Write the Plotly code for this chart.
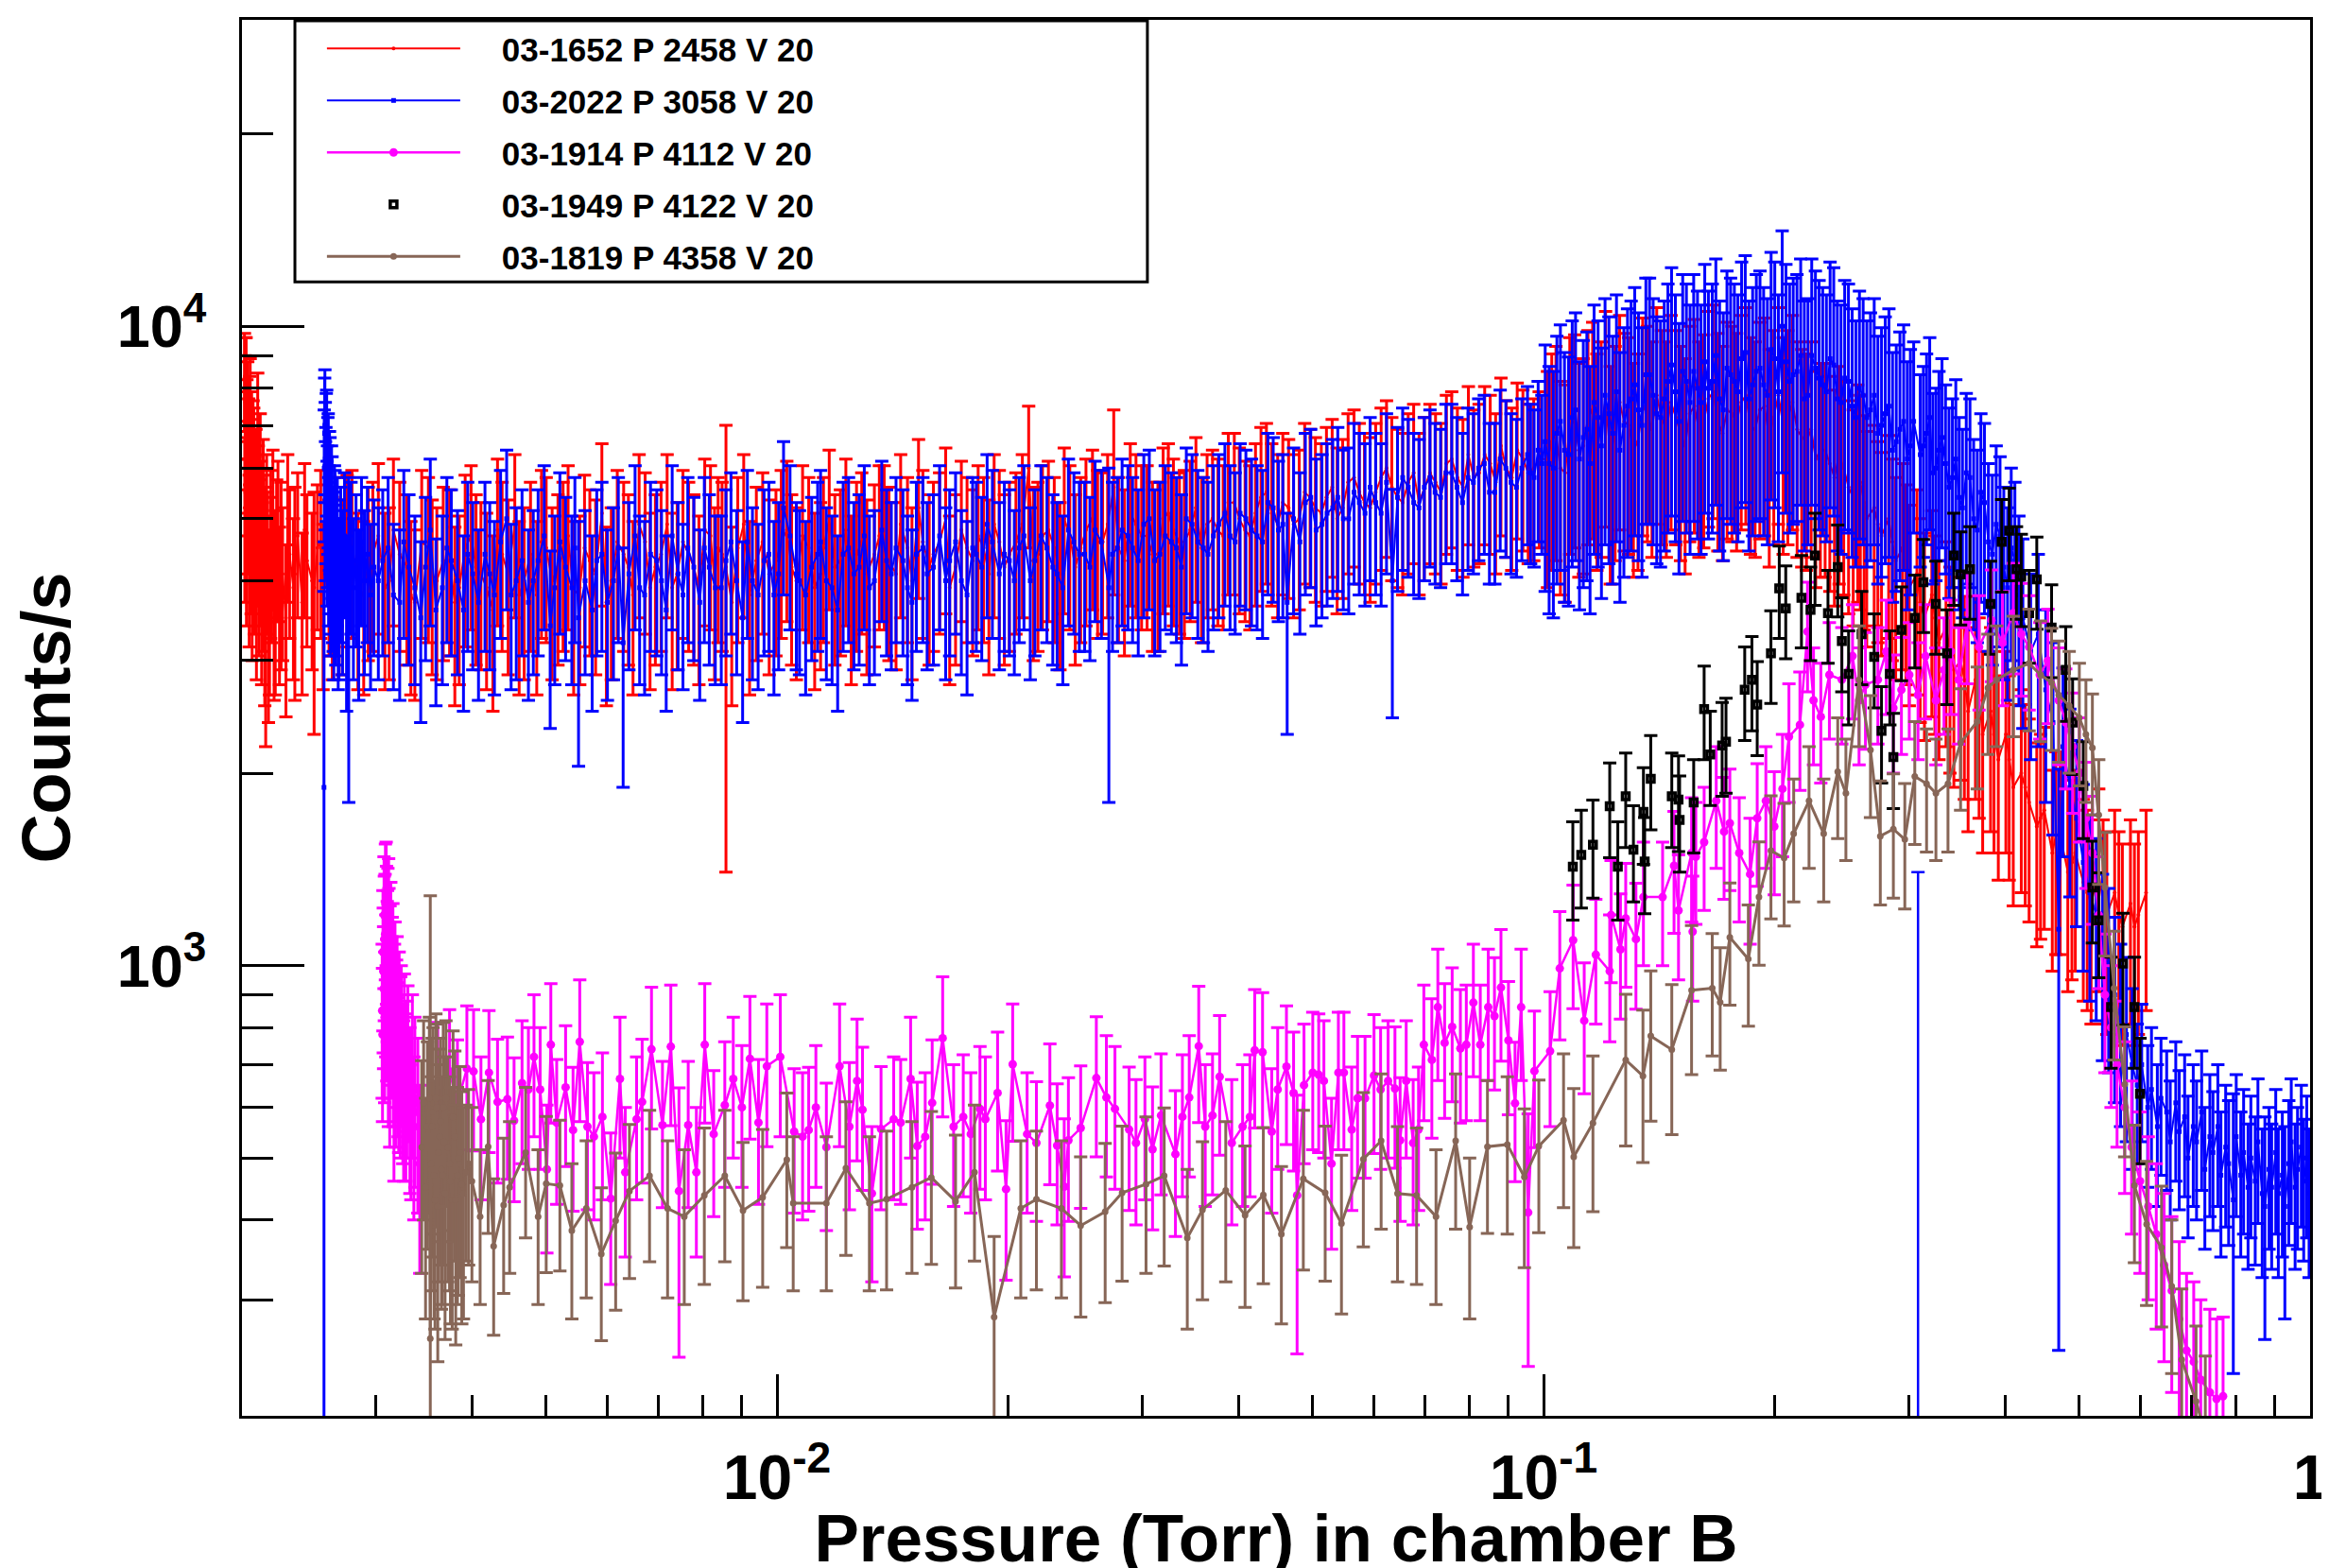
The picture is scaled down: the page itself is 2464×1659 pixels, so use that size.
import plotly.graph_objects as go

# ---------------- data ----------------
# 03-1652 P 2458 V 20  (red) -- first pass of readings
red_x = [
    0.002020, 0.002025, 0.002030, 0.002035, 0.002040, 0.002046, 0.002052, 0.002058, 0.002064, 0.002070,
    0.002077, 0.002084, 0.002091, 0.002098, 0.002106, 0.002114, 0.002123, 0.002132, 0.002142, 0.002153,
    0.002165, 0.002178, 0.002192, 0.002208, 0.002225, 0.002244, 0.002265, 0.002288, 0.002313, 0.002340,
    0.002370, 0.002402, 0.002437, 0.002475, 0.002515, 0.002558, 0.002604, 0.002652,
    0.00271, 0.00279, 0.00289, 0.00297, 0.00308, 0.00316, 0.00329, 0.00337, 0.00351, 0.00360,
    0.00374, 0.00385, 0.00399, 0.00411, 0.00426, 0.00438, 0.00455, 0.00468, 0.00486, 0.00500,
    0.00518, 0.00534, 0.00553, 0.00570, 0.00591, 0.00608, 0.00631, 0.00649, 0.00673, 0.00694,
    0.00719, 0.00741, 0.00767, 0.00791, 0.00819, 0.00838, 0.00858, 0.00889, 0.00921, 0.00958,
    0.00997, 0.0103, 0.0106, 0.0110, 0.0114, 0.0117, 0.0121, 0.0125, 0.0129, 0.0134,
    0.0138, 0.0143, 0.0148, 0.0153, 0.0158, 0.0163, 0.0168, 0.0174, 0.0180, 0.0186,
    0.0192, 0.0198, 0.0205, 0.0213, 0.0219, 0.0226, 0.0234, 0.0241, 0.0249, 0.0258,
    0.0266, 0.0275, 0.0284, 0.0294, 0.0304, 0.0314, 0.0324, 0.0335, 0.0346, 0.0358,
    0.0370, 0.0382, 0.0395, 0.0408, 0.0421, 0.0435, 0.0450, 0.0465, 0.0480, 0.0496,
    0.0513, 0.0530, 0.0547, 0.0566, 0.0584, 0.0604, 0.0624, 0.0645, 0.0666, 0.0688,
    0.0711, 0.0735, 0.0759, 0.0785, 0.0811, 0.0838, 0.0866, 0.0894, 0.0924, 0.0955, 0.0987,
    0.1012, 0.1038, 0.1067, 0.1098, 0.1127, 0.1159, 0.1189, 0.1222, 0.1257, 0.1291,
    0.1328, 0.1366, 0.1405, 0.1446, 0.1488, 0.1530, 0.1573, 0.1618, 0.1664, 0.1712,
    0.1761, 0.1811, 0.1862, 0.1915, 0.1970, 0.2025, 0.2083, 0.2142, 0.2203, 0.2265,
    0.2330, 0.2396, 0.2464, 0.2535, 0.2590, 0.2640,
    0.270, 0.276, 0.282, 0.288, 0.294, 0.300, 0.307, 0.314, 0.321, 0.328,
    0.335, 0.343, 0.350, 0.358, 0.366, 0.374, 0.383, 0.392, 0.401, 0.410,
    0.420, 0.430, 0.440, 0.450, 0.461, 0.472, 0.483, 0.494, 0.506, 0.518,
    0.530, 0.543, 0.556, 0.569, 0.583, 0.597, 0.611,
]
red_y = [
    8300, 7600, 8100, 6900, 7400, 6400, 7000, 5900, 6600, 5500,
    6200, 5100, 5700, 4800, 5300, 4500, 5000, 4200, 4700, 3900,
    4400, 3700, 4300, 3600, 4600, 3800, 4100, 3500, 4400, 3900,
    4700, 3700, 4300, 4000, 4500, 3800, 4200, 4600,
    4100, 4600, 3800, 4400, 3900, 4800, 4200, 3700, 4500, 4000,
    4300, 3900, 4700, 4100, 3600, 4400, 4900, 4000, 3800, 4500,
    4200, 4700, 3900, 4300, 5100, 4000, 4400, 3800, 4600, 4200,
    4900, 4100, 4400, 3900, 4700, 4500, 4200, 4500, 3800, 4600,
    4300, 4800, 4000, 4500, 4100, 5000, 4300, 3900, 4600, 4400,
    4700, 4100, 4500, 5200, 4200, 4600, 3900, 4800, 4300, 4500,
    4900, 4200, 4600, 6000, 4400, 4800, 4100, 4700, 4500, 5000,
    4600, 5600, 4300, 4900, 4700, 4400, 5100, 4600, 4800, 4500,
    5000, 4700, 5300, 4800, 5100, 5500, 4900, 5200, 5000, 5400,
    5100, 5600, 5200, 5800, 5300, 5500, 6000, 5400, 5700, 5300,
    5900, 5500, 6200, 5600, 5800, 6300, 5700, 6000, 6400, 5900, 6200,
    6200, 6800, 5900, 7100, 6500, 7400, 6900, 6300, 7600, 7000,
    6600, 7300, 7800, 6900, 7200, 6500, 7500, 7100, 7900, 6800,
    7300, 7600, 7000, 7400, 6700, 7800, 7200, 6900, 6600, 6200,
    6400, 5800, 6000, 5400, 5700, 5000,
    5200, 4700, 5000, 4300, 4500, 3900, 4100, 3500, 3800, 3200,
    3400, 2900, 3000, 2500, 2800, 2300, 2500, 2100, 2300, 1900,
    2000, 1800, 1650, 1750, 1500, 1600, 1400, 1500, 1350, 1250,
    1400, 1200, 1300, 1150, 1250, 1200, 1300,
]
red_err = [
    1450, 1400, 1500, 1350, 1400, 1300, 1350, 1250, 1300, 1200,
    1250, 1150, 1200, 1150, 1200, 1100, 1150, 1100, 1150, 1700,
    1100, 1050, 1100, 1000, 1150, 1050, 1100, 1050, 1150, 1100,
    1200, 1050, 1150, 1100, 1150, 1100, 1150, 1200,
    1250, 1350, 1150, 1300, 1200, 1400, 1250, 1100, 1300, 1200,
    1250, 1150, 1350, 1200, 1100, 1300, 1400, 1200, 1150, 1300,
    1250, 1350, 1150, 1250, 1450, 1200, 1300, 1150, 1300, 1250,
    1400, 1200, 1300, 1150, 1350, 1300, 2800, 1300, 1150, 1300,
    1250, 1350, 1200, 1300, 1200, 1400, 1250, 1150, 1300, 1250,
    1350, 1200, 1300, 1450, 1250, 1300, 1150, 1350, 1250, 1300,
    1400, 1250, 1300, 1500, 1300, 1350, 1200, 1350, 1300, 1400,
    1300, 1800, 1250, 1400, 1350, 1300, 1450, 1300, 1350, 1300,
    1400, 1350, 1500, 1350, 1450, 1550, 1400, 1450, 1400, 1500,
    1450, 1550, 1450, 1600, 1500, 1550, 1650, 1500, 1600, 1500,
    1650, 1550, 1700, 1550, 1600, 1750, 1600, 1650, 1750, 1650, 1700,
    2300, 2500, 2200, 2600, 2400, 2750, 2550, 2350, 2800, 2600,
    2450, 2700, 2900, 2550, 2650, 2400, 2750, 2600, 2900, 2500,
    2700, 2800, 2600, 2750, 2500, 2900, 2650, 2550, 2450, 2300,
    2350, 2150, 2200, 2000, 2100, 1850,
    1800, 1650, 1750, 1500, 1600, 1350, 1450, 1250, 1350, 1100,
    1200, 1000, 1050, 880, 980, 800, 880, 740, 800, 660,
    700, 630, 580, 610, 520, 560, 490, 520, 470, 440,
    490, 420, 450, 400, 440, 420, 450,
]
# red -- second pass (readings in between the first pass)
red_x2 = [
    0.002022, 0.002027, 0.002032, 0.002037, 0.002043, 0.002049, 0.002055, 0.002061, 0.002067, 0.002073,
    0.002080, 0.002087, 0.002094, 0.002102, 0.002110, 0.002118, 0.002127, 0.002137, 0.002147, 0.002159,
    0.002171, 0.002185, 0.002200, 0.002216, 0.002234, 0.002255, 0.002300, 0.002350, 0.002420, 0.002490,
    0.002540, 0.002630,
    0.00275, 0.00284, 0.00293, 0.00302, 0.00312, 0.00322, 0.00333, 0.00344, 0.00355, 0.00367,
    0.00380, 0.00392, 0.00405, 0.00418, 0.00432, 0.00446, 0.00461, 0.00477, 0.00493, 0.00509,
    0.00526, 0.00543, 0.00561, 0.00580, 0.00599, 0.00619, 0.00640, 0.00661, 0.00683, 0.00706,
    0.00730, 0.00754, 0.00779, 0.00805, 0.00829, 0.00848, 0.00873, 0.00905, 0.00940, 0.00977,
    0.01013, 0.01045, 0.0108, 0.0112, 0.0115, 0.0119, 0.0123, 0.0127, 0.0131, 0.0136,
    0.0140, 0.0145, 0.0150, 0.0155, 0.0160, 0.0166, 0.0171, 0.0177, 0.0183, 0.0189,
    0.0195, 0.0201, 0.0209, 0.0216, 0.0222, 0.0230, 0.0237, 0.0245, 0.0253, 0.0262,
    0.0270, 0.0279, 0.0289, 0.0299, 0.0309, 0.0319, 0.0329, 0.0340, 0.0352, 0.0364,
    0.0376, 0.0388, 0.0401, 0.0414, 0.0428, 0.0442, 0.0457, 0.0472, 0.0488, 0.0504,
    0.0521, 0.0538, 0.0556, 0.0575, 0.0594, 0.0614, 0.0634, 0.0655, 0.0677, 0.0699,
    0.0723, 0.0747, 0.0772, 0.0798, 0.0824, 0.0852, 0.0880, 0.0909, 0.0940, 0.0971,
    0.1025, 0.1052, 0.1082, 0.1112, 0.1143, 0.1174, 0.1205, 0.1240, 0.1274, 0.1310,
    0.1347, 0.1385, 0.1425, 0.1467, 0.1509, 0.1551, 0.1595, 0.1641, 0.1688, 0.1736,
    0.1786, 0.1836, 0.1888, 0.1942, 0.1997, 0.2054, 0.2112, 0.2172, 0.2234, 0.2297,
    0.2363, 0.2430, 0.2500, 0.2570, 0.2620,
    0.273, 0.285, 0.297, 0.310, 0.324, 0.339, 0.354, 0.370, 0.387, 0.405,
    0.425, 0.445, 0.466, 0.489, 0.512, 0.537, 0.563, 0.590,
]
red_y2 = [
    5200, 7900, 4800, 6300, 5600, 4500, 7200, 5000, 4300, 6100,
    4700, 5400, 4100, 6800, 4400, 5800, 4000, 5200, 3800, 4900,
    3600, 4600, 5000, 3900, 4800, 4300, 5000, 4100, 4800, 3900,
    4600, 4100,
    4500, 3900, 4300, 4700, 4000, 4400, 3800, 4600, 4100, 4300,
    3700, 4500, 4200, 3900, 4800, 4100, 3800, 4400, 4600, 4000,
    4400, 3800, 4500, 4100, 3700, 4600, 4200, 4900, 3900, 4400,
    3900, 4600, 4200, 4800, 4000, 4400, 3700, 4900, 4300, 4100,
    4600, 4200, 4700, 3900, 4500, 4200, 4800, 4400, 4100, 4700,
    4300, 4900, 4000, 4600, 4400, 5000, 4200, 4500, 4700, 4100,
    4600, 4400, 4900, 4300, 4700, 4500, 5000, 4200, 4800, 4600,
    4900, 4500, 5100, 4700, 4400, 5000, 4800, 4600, 5200, 4900,
    4800, 5300, 5000, 4700, 5400, 5100, 5300, 4900, 5500, 5200,
    5400, 5000, 5700, 5500, 5200, 5800, 5600, 5300, 5900, 5600,
    5700, 6100, 5800, 6300, 5900, 6100, 6500, 5800, 6200, 6000,
    6600, 6000, 7000, 6400, 7200, 6600, 7700, 6800, 7100, 6400,
    7500, 6900, 7200, 7600, 6800, 7300, 6900, 7700, 7100, 7400,
    7100, 7800, 6900, 7500, 7200, 7000, 7600, 6700, 6900, 6400,
    6100, 6300, 5600, 5900, 5300,
    4900, 4600, 4200, 3700, 3500, 3100, 2800, 2600, 2300, 2100,
    1900, 1700, 1600, 1450, 1300, 1250, 1200, 1150,
]
red_err2 = [
    1500, 1700, 1400, 1600, 1500, 1350, 1700, 1450, 1300, 1550,
    1400, 1500, 1300, 1650, 1350, 1500, 1250, 1450, 1250, 1400,
    1200, 1350, 1400, 1250, 1350, 1400, 1300, 1500, 1300, 1600,
    1350, 1300,
    1350, 1200, 1300, 1400, 1200, 1300, 1150, 1350, 1250, 1300,
    1150, 1350, 1250, 1200, 1400, 1250, 1150, 1300, 1350, 1200,
    1300, 1150, 1350, 1250, 1150, 1350, 1250, 1400, 1200, 1300,
    1200, 1350, 1250, 1400, 1200, 1300, 1150, 1400, 1300, 1250,
    1350, 1250, 1350, 1200, 1300, 1250, 1400, 1300, 1250, 1350,
    1300, 1400, 1200, 1350, 1300, 1450, 1250, 1300, 1350, 1250,
    1350, 1300, 1400, 1300, 1350, 1300, 1450, 1250, 1400, 1350,
    1400, 1300, 1450, 1350, 1300, 1450, 1400, 1350, 1500, 1400,
    1400, 1500, 1450, 1350, 1550, 1450, 1500, 1400, 1550, 1500,
    1550, 1450, 1600, 1550, 1500, 1650, 1600, 1500, 1650, 1600,
    1600, 1700, 1650, 1750, 1650, 1700, 1800, 1650, 1750, 1700,
    2450, 2200, 2600, 2350, 2650, 2450, 2850, 2500, 2650, 2350,
    2800, 2550, 2650, 2800, 2500, 2700, 2550, 2850, 2650, 2750,
    2650, 2900, 2550, 2800, 2650, 2600, 2800, 2500, 2550, 2350,
    2250, 2350, 2050, 2200, 1950,
    1700, 1600, 1450, 1300, 1200, 1100, 980, 900, 800, 740,
    660, 600, 560, 500, 450, 440, 420, 400,
]

# 03-2022 P 3058 V 20  (blue) -- first pass
blue_x = [
    0.002565, 0.002570, 0.002575, 0.002580, 0.002586, 0.002592, 0.002598, 0.002605, 0.002612, 0.002620,
    0.002628, 0.002637, 0.002647, 0.002658, 0.002670, 0.002683, 0.002697, 0.002712, 0.002728, 0.002745,
    0.002763, 0.002782, 0.002802, 0.002824, 0.002847, 0.002871, 0.002896, 0.002922, 0.002950, 0.002980,
    0.00302, 0.00311, 0.00322, 0.00331, 0.00343, 0.00353, 0.00366, 0.00376, 0.00390, 0.00401,
    0.00416, 0.00428, 0.00444, 0.00457, 0.00474, 0.00488, 0.00506, 0.00521, 0.00540, 0.00551,
    0.00574, 0.00591, 0.00612, 0.00630, 0.00653, 0.00672, 0.00697, 0.00717, 0.00743, 0.00765,
    0.00793, 0.00816, 0.00846, 0.00871, 0.00902, 0.00929, 0.00962, 0.00991, 0.0102, 0.0106,
    0.0109, 0.0113, 0.0116, 0.0120, 0.0124, 0.0128, 0.0132, 0.0137, 0.0141, 0.0146,
    0.0150, 0.0155, 0.0160, 0.0166, 0.0171, 0.0177, 0.0182, 0.0188, 0.0195, 0.0201,
    0.0207, 0.0214, 0.0221, 0.0229, 0.0236, 0.0244, 0.0252, 0.0260, 0.0271, 0.0278,
    0.0287, 0.0296, 0.0306, 0.0316, 0.0327, 0.0337, 0.0348, 0.0360, 0.0371, 0.0384,
    0.0396, 0.0409, 0.0423, 0.0437, 0.0451, 0.0463, 0.0481, 0.0497, 0.0514, 0.0531,
    0.0548, 0.0566, 0.0585, 0.0604, 0.0624, 0.0635, 0.0666, 0.0688, 0.0711, 0.0734,
    0.0759, 0.0784, 0.0810, 0.0837, 0.0864, 0.0893, 0.0922, 0.0953, 0.0972, 0.0995,
    0.1005, 0.1030, 0.1052, 0.1078, 0.1101, 0.1127, 0.1150, 0.1178, 0.1203, 0.1231,
    0.1258, 0.1287, 0.1315, 0.1344, 0.1375, 0.1405, 0.1437, 0.1469, 0.1502, 0.1536,
    0.1570, 0.1605, 0.1641, 0.1678, 0.1716, 0.1754, 0.1793, 0.1833, 0.1874, 0.1916,
    0.1959, 0.2003, 0.2048, 0.2094, 0.2141, 0.2189, 0.2238, 0.2288, 0.2339, 0.2391,
    0.2444, 0.2499, 0.2555, 0.2612, 0.2670, 0.2730, 0.2791, 0.2853, 0.2917, 0.2982,
    0.3040, 0.3130, 0.3190, 0.3250, 0.3310, 0.3380, 0.3450, 0.3520, 0.3600, 0.3680,
    0.3760, 0.3850, 0.3940, 0.4030, 0.4120, 0.4220, 0.4320, 0.4420, 0.4520, 0.4620,
    0.4700, 0.4760, 0.4860, 0.4960, 0.5060, 0.5160, 0.5260, 0.5360, 0.5460, 0.5560,
    0.5660, 0.5760, 0.5860,
    0.595, 0.603, 0.614, 0.621, 0.632, 0.639, 0.650, 0.657, 0.668, 0.675,
    0.686, 0.693, 0.704, 0.711, 0.722, 0.729, 0.740, 0.747, 0.758, 0.765,
    0.776, 0.783, 0.794, 0.801, 0.812, 0.819, 0.830, 0.837, 0.848, 0.855,
    0.866, 0.873, 0.884, 0.891, 0.902, 0.909, 0.920, 0.927, 0.938, 0.945,
    0.956, 0.963, 0.974, 0.981, 0.990, 0.997,
]
blue_y = [
    1900, 6800, 6200, 5600, 6500, 5200, 5900, 4800, 5400, 4500,
    5000, 4300, 4800, 4100, 4600, 3900, 4400, 4000, 4700, 3600,
    3800, 4500, 3900, 4300, 3700, 4600, 4000, 4400, 3800, 4200,
    4000, 4500, 3700, 4200, 3500, 4800, 3900, 4300, 3600, 4100,
    4400, 3800, 5000, 4000, 3700, 4300, 3400, 4600, 3900, 3500,
    3600, 4400, 4000, 3200, 4700, 3800, 4300, 3600, 4100, 4500,
    3700, 4200, 3900, 4600, 3500, 4000, 4300, 3800, 5200, 4100,
    3800, 4400, 4000, 3600, 4500, 4200, 3900, 4800, 4100, 4300,
    3700, 4500, 4200, 4000, 4600, 3800, 4400, 4900, 4100, 4300,
    4500, 4000, 4700, 4200, 3900, 4600, 4400, 4800, 3900, 4500,
    4700, 4300, 5000, 4400, 4600, 4200, 4900, 4500, 4700, 5100,
    4600, 5000, 4700, 5300, 4800, 3700, 4600, 5400, 4900, 5200,
    5000, 5500, 5100, 5300, 5700, 4000, 5600, 5200, 5800, 5400,
    5900, 5300, 5700, 6100, 5500, 6000, 5600, 6300, 5800, 6100,
    6600, 6000, 7100, 6300, 7400, 6700, 6100, 7200, 7800, 6800,
    6400, 7500, 8100, 7000, 8400, 7300, 7700, 8700, 7100, 8200,
    8500, 7600, 8000, 9000, 7400, 8400, 7900, 9100, 8100, 8600,
    7800, 8900, 10000, 8200, 8500, 7700, 9000, 8300, 7900, 8700,
    7600, 8200, 7200, 7800, 7400, 6800, 7300, 6400, 6900, 6200,
    7100, 6500, 7200, 6000, 6700, 5600, 6200, 5200, 5800, 4800,
    5300, 4400, 4700, 3900, 4300, 3500, 3100, 3300, 2700, 2400,
    1140, 2200, 1900, 1700, 1450, 1300, 1200, 1050, 1000, 900,
    820, 780, 700,
    650, 700, 600, 640, 560, 620, 590, 530, 610, 550,
    580, 500, 560, 530, 590, 480, 540, 510, 560, 470,
    520, 490, 430, 540, 470, 510, 450, 500, 460, 530,
    440, 420, 480, 450, 510, 440, 470, 420, 490, 530,
    450, 480, 520, 460, 500, 440,
]
blue_err = [
    1950, 1500, 1400, 1350, 1450, 1300, 1400, 1250, 1300, 1200,
    1250, 1200, 1250, 1150, 1200, 1100, 1200, 1150, 1200, 1100,
    2000, 1200, 1100, 1150, 1100, 1200, 1150, 1200, 1100, 1150,
    1200, 1300, 1100, 1250, 1100, 1400, 1150, 1250, 1100, 1200,
    1300, 1150, 1400, 1200, 1100, 1250, 1050, 1300, 1150, 1450,
    1100, 1300, 1200, 1300, 1350, 1150, 1250, 1100, 1200, 1300,
    1100, 1250, 1150, 1300, 1100, 1200, 1250, 1150, 1400, 1200,
    1150, 1300, 1200, 1100, 1300, 1250, 1150, 1350, 1200, 1250,
    1100, 1300, 1250, 1200, 1300, 1150, 1300, 1400, 1200, 1250,
    1300, 1200, 1350, 1250, 1150, 1300, 1300, 1350, 2100, 1300,
    1350, 1250, 1400, 1300, 1300, 1250, 1400, 1300, 1350, 1450,
    1300, 1400, 1350, 1500, 1350, 1400, 1300, 1500, 1400, 1450,
    1400, 1550, 1450, 1500, 1600, 1560, 1550, 1450, 1600, 1500,
    1650, 1500, 1600, 1700, 1550, 1650, 1550, 1750, 1600, 1700,
    2750, 2500, 2950, 2650, 3100, 2800, 2550, 3000, 3250, 2850,
    2700, 3150, 3400, 2950, 3500, 3050, 3250, 3650, 3000, 3450,
    3550, 3200, 3350, 3750, 3100, 3500, 3300, 3800, 3400, 3600,
    3250, 3700, 4100, 3450, 3550, 3250, 3750, 3500, 3300, 3650,
    3200, 3450, 3000, 3250, 3100, 2850, 3050, 2700, 2900, 2600,
    2350, 2150, 2400, 2000, 2200, 1850, 2050, 1700, 1900, 1600,
    1750, 1450, 1550, 1300, 1400, 1150, 1000, 1100, 900, 800,
    890, 720, 620, 550, 470, 420, 380, 340, 320, 290,
    260, 250, 220,
    160, 170, 150, 160, 140, 150, 145, 130, 150, 135,
    145, 125, 140, 130, 145, 120, 135, 125, 140, 120,
    130, 125, 200, 135, 120, 130, 115, 125, 120, 135,
    115, 160, 120, 115, 130, 115, 120, 140, 125, 135,
    115, 120, 130, 115, 125, 115,
]
# blue -- second pass
blue_x2 = [
    0.002567, 0.002572, 0.002577, 0.002583, 0.002589, 0.002595, 0.002601, 0.002608, 0.002616, 0.002624,
    0.002632, 0.002642, 0.002652, 0.002664, 0.002677,
    0.00306, 0.00316, 0.00326, 0.00337, 0.00348, 0.00359, 0.00371, 0.00383, 0.00395, 0.00408,
    0.00422, 0.00436, 0.00450, 0.00465, 0.00481, 0.00497, 0.00513, 0.00530, 0.00545, 0.00562,
    0.00582, 0.00601, 0.00621, 0.00641, 0.00662, 0.00684, 0.00707, 0.00730, 0.00754, 0.00779,
    0.00804, 0.00831, 0.00858, 0.00886, 0.00915, 0.00945, 0.00976, 0.01005, 0.0104, 0.0107,
    0.0111, 0.0114, 0.0118, 0.0122, 0.0126, 0.0130, 0.0134, 0.0139, 0.0143, 0.0148,
    0.0152, 0.0157, 0.0163, 0.0168, 0.0174, 0.0180, 0.0185, 0.0191, 0.0198, 0.0204,
    0.0210, 0.0217, 0.0225, 0.0232, 0.0240, 0.0248, 0.0256, 0.0265, 0.0274, 0.0282,
    0.0291, 0.0301, 0.0311, 0.0321, 0.0332, 0.0342, 0.0354, 0.0365, 0.0377, 0.0390,
    0.0402, 0.0416, 0.0430, 0.0444, 0.0457, 0.0472, 0.0489, 0.0505, 0.0522, 0.0539,
    0.0557, 0.0575, 0.0594, 0.0614, 0.0645, 0.0655, 0.0677, 0.0699, 0.0722, 0.0746,
    0.0771, 0.0797, 0.0823, 0.0850, 0.0878, 0.0907, 0.0937, 0.0962, 0.0984,
    0.1017, 0.1041, 0.1065, 0.1090, 0.1114, 0.1139, 0.1164, 0.1190, 0.1217, 0.1245,
    0.1273, 0.1301, 0.1330, 0.1360, 0.1390, 0.1421, 0.1453, 0.1486, 0.1519, 0.1553,
    0.1588, 0.1623, 0.1660, 0.1697, 0.1735,
    0.1774, 0.1813, 0.1853, 0.1895, 0.1937, 0.1981, 0.2025, 0.2071, 0.2117, 0.2165,
    0.2213, 0.2263, 0.2313, 0.2365, 0.2417, 0.2471, 0.2527, 0.2583, 0.2641, 0.2700,
    0.2760, 0.2822, 0.2885, 0.2950, 0.3010,
    0.3100, 0.3160, 0.3220, 0.3280, 0.3345, 0.3415, 0.3485, 0.3560, 0.3640, 0.3720,
    0.3805, 0.3895, 0.3985, 0.4075, 0.4170,
]
blue_y2 = [
    6000, 7000, 5300, 6400, 4900, 5800, 4600, 5500, 4200, 5200,
    4400, 3900, 4700, 4200, 3800,
    4300, 3800, 4600, 3900, 4200, 3600, 4500, 4000, 4400, 3700,
    4100, 4600, 3800, 4300, 4000, 4700, 3900, 4200, 4500, 4000,
    4300, 3700, 4500, 4100, 3900, 4400, 4000, 4700, 3800, 4200,
    4500, 3900, 4300, 4000, 4600, 3800, 4400, 4100, 4700, 4000,
    4200, 4600, 3900, 4400, 4100, 4700, 4000, 4300, 4500, 3900,
    4400, 4100, 4700, 4300, 4000, 4500, 4200, 4600, 4400, 4000,
    4700, 4300, 4500, 4100, 4800, 4400, 4200, 4600, 4400, 4800,
    4500, 4900, 4300, 4700, 4500, 5000, 4600, 4400, 4900, 4700,
    5100, 4800, 4600, 5200, 4900, 5000, 5300, 4800, 5100, 5400,
    5000, 5300, 5600, 5100, 5400, 5800, 5300, 5600, 5500, 5900,
    5600, 5800, 6000, 5500, 6200, 5700, 6000, 5900, 6400,
    6100, 6800, 6400, 7200, 6200, 6900, 7600, 6500, 7300, 7900,
    7000, 7700, 7400, 8400, 7800, 7200, 8200, 7900, 8500, 7600,
    8000, 8800, 8200, 7700, 8600,
    8200, 8900, 7700, 8500, 8100, 9200, 7900, 8800, 8400, 9000,
    7800, 8600, 8100, 8900, 7700, 8300, 7500, 8000, 7200, 7800,
    7000, 7500, 6600, 7100, 6500,
    6300, 6800, 5900, 6400, 6100, 5800, 5400, 5900, 5000, 5500,
    4600, 4900, 4200, 4500, 3800,
]
blue_err2 = [
    1400, 1550, 1300, 1450, 1250, 1400, 1200, 1350, 1150, 1300,
    1200, 1100, 1250, 1150, 1100,
    1250, 1100, 1350, 1150, 1200, 1050, 1300, 1150, 1300, 1100,
    1200, 1350, 1100, 1250, 1150, 1350, 1150, 1200, 1300, 1150,
    1250, 1100, 1300, 1200, 1150, 1300, 1150, 1350, 1100, 1200,
    1300, 1150, 1250, 1150, 1350, 1100, 1300, 1200, 1350, 1150,
    1200, 1350, 1150, 1300, 1200, 1350, 1150, 1250, 1300, 1150,
    1300, 1200, 1350, 1250, 1150, 1300, 1200, 1350, 1300, 1150,
    1350, 1250, 1300, 1200, 1400, 1300, 1200, 1350, 1300, 1400,
    1300, 1400, 1250, 1350, 1300, 1450, 1350, 1300, 1400, 1350,
    1450, 1400, 1350, 1500, 1400, 1450, 1500, 1400, 1450, 1550,
    1450, 1500, 1600, 1450, 1550, 1650, 1500, 1600, 1550, 1650,
    1600, 1650, 1700, 1550, 1750, 1600, 1700, 1650, 1800,
    2550, 2850, 2700, 3000, 2600, 2900, 3200, 2750, 3050, 3300,
    2950, 3250, 3100, 3500, 3250, 3000, 3450, 3300, 3550, 3200,
    3350, 3700, 3450, 3250, 3600,
    3450, 3700, 3250, 3550, 3400, 3850, 3300, 3700, 3500, 3750,
    3250, 3600, 3400, 3700, 3250, 3500, 3150, 3350, 3000, 3250,
    2950, 3150, 2750, 2950, 2700,
    2100, 2250, 1950, 2100, 2000, 1900, 1800, 1950, 1650, 1800,
    1500, 1600, 1400, 1500, 1250,
]
# blue readings with a zero rate (bar drawn from 0 up to the error)
blue_zero_x = [0.3080]
blue_zero_y = [0]
blue_zero_err = [1400]

# 03-1914 P 4112 V 20  (magenta) -- first pass
mag_x = [
    0.003055, 0.003065, 0.003075, 0.003085, 0.003095, 0.003105, 0.003115, 0.003125, 0.003135, 0.003145,
    0.003155, 0.003165, 0.003175, 0.003185, 0.003195, 0.003205, 0.003215, 0.003225, 0.003235, 0.003250,
    0.003265, 0.003280, 0.003300, 0.003320, 0.003345, 0.003370, 0.003400, 0.003420,
    0.00361, 0.00374, 0.00383, 0.00394, 0.00402, 0.00411, 0.00421, 0.00432, 0.00445, 0.00454,
    0.00465, 0.00474, 0.00482, 0.00491, 0.00501, 0.00507, 0.00516, 0.00530, 0.00542, 0.00553,
    0.00566, 0.00577, 0.00592, 0.00607, 0.00624, 0.00634, 0.00656, 0.00667, 0.00686, 0.00709,
    0.00727, 0.00745, 0.00766, 0.00785, 0.00805, 0.00827, 0.00855, 0.00877, 0.00900, 0.00922,
    0.00946, 0.00970, 0.01010, 0.01053, 0.01080, 0.01100, 0.01124, 0.01160, 0.01207, 0.01243,
    0.01272, 0.01293, 0.01330, 0.01367, 0.01420, 0.01450, 0.01494, 0.01524, 0.01561, 0.01594,
    0.01645,
    0.0170, 0.0175, 0.0179, 0.0184, 0.0187, 0.0194, 0.0199, 0.0203, 0.0212, 0.0218,
    0.0227, 0.0232, 0.0237, 0.0240, 0.0249, 0.0261, 0.0269, 0.0276, 0.0288, 0.0294,
    0.0302, 0.0309, 0.0317, 0.0331, 0.0338, 0.0345, 0.0355, 0.0362, 0.0370, 0.0378,
    0.0392, 0.0405, 0.0414, 0.0420, 0.0430, 0.0442, 0.0450, 0.0462, 0.0472, 0.0477,
    0.0487, 0.0500, 0.0509, 0.0517, 0.0529, 0.0540, 0.0549, 0.0562, 0.0572, 0.0585,
    0.0601, 0.0613, 0.0627, 0.0640, 0.0650, 0.0662, 0.0676, 0.0687, 0.0698, 0.0715,
    0.0728, 0.0743, 0.0760, 0.0779, 0.0793, 0.0810, 0.0827, 0.0847, 0.0863, 0.0880,
    0.0900, 0.0918, 0.0935, 0.0955, 0.0973, 0.1020, 0.1050,
    0.1093, 0.1130, 0.1170, 0.1220, 0.1225, 0.1260, 0.1280, 0.1320, 0.1350, 0.1430,
    0.1480, 0.1500, 0.1560, 0.1565, 0.1580, 0.1620, 0.1680, 0.1720, 0.1750, 0.1800,
    0.1860, 0.1900, 0.1950, 0.2000, 0.2050, 0.2090, 0.2160, 0.2210, 0.2250, 0.2300,
    0.2360, 0.2450, 0.2530, 0.2580, 0.2630, 0.2730, 0.2800, 0.2860, 0.2930, 0.3000,
    0.3080, 0.3150, 0.3250, 0.3330, 0.3400, 0.3480, 0.3570, 0.3700, 0.3840, 0.3970,
    0.4100, 0.4200, 0.4300, 0.4440, 0.4550, 0.4700, 0.4800, 0.4900, 0.5000, 0.5100,
    0.5200, 0.5300, 0.5400, 0.5500, 0.5600, 0.5730, 0.5850, 0.6000, 0.6150, 0.6300,
    0.6450, 0.6600, 0.6750, 0.6900, 0.7050, 0.7200, 0.7400, 0.7550, 0.7700,
]
mag_y = [
    850, 980, 1100, 1250, 1150, 1050, 1180, 720, 1080, 880,
    1000, 640, 930, 780, 880, 740, 830, 700, 790, 680,
    760, 650, 730, 620, 700, 640, 590, 490,
    650, 683, 610, 690, 683, 575, 680, 612, 618, 572,
    655, 640, 720, 640, 480, 752, 568, 645, 553, 760,
    560, 540, 580, 432, 665, 475, 575, 612, 740, 563,
    747, 444, 563, 475, 752, 545, 605, 665, 600, 715,
    568, 696, 720, 550, 540, 553, 600, 520, 696, 560,
    660, 595, 440, 555, 575, 568, 665, 522, 540, 610,
    770,
    560, 580, 545, 597, 575, 632, 447, 701, 545, 528,
    604, 523, 451, 533, 557, 667, 622, 597, 554, 528,
    575, 516, 583, 507, 580, 622, 748, 560, 583, 670,
    528, 560, 580, 737, 732, 550, 640, 695, 632, 437,
    650, 680, 675, 660, 490, 680, 680, 554, 620, 620,
    673, 640, 660, 642, 533, 660, 528, 554, 752, 712,
    861, 757, 802, 742, 752, 875, 752, 861, 834, 924,
    764, 609, 861, 411, 684, 735, 990,
    1096, 820, 1040, 980, 1200, 1060, 1185, 1100, 1280, 1280,
    1433, 1220, 1500, 1130, 1480, 1560, 1810, 1620, 1670, 1500,
    1390, 1700, 1810, 1650, 1890, 2280, 2380, 3330, 2600, 2450,
    2850, 2800, 3050, 2600, 2750, 2800, 3100, 2530, 2700, 2850,
    2650, 3050, 2600, 2900, 3100, 2800, 3440, 3150, 3470, 3200,
    3560, 3300, 3150, 2850, 3000, 2600, 2400, 2200, 2000, 1700,
    1500, 1200, 900, 800, 700, 600, 520, 460, 420, 380,
    340, 310, 280, 250, 240, 225, 215, 210, 212,
]
mag_err = [
    230, 250, 280, 300, 280, 260, 290, 200, 270, 230,
    250, 180, 240, 210, 230, 200, 220, 200, 210, 190,
    210, 190, 200, 180, 200, 190, 180, 160,
    165, 170, 155, 175, 170, 145, 170, 155, 155, 145,
    165, 160, 180, 160, 125, 185, 145, 160, 140, 190,
    145, 140, 150, 115, 165, 125, 145, 155, 185, 145,
    185, 200, 145, 125, 185, 140, 155, 165, 150, 180,
    145, 175, 180, 140, 140, 140, 150, 135, 175, 145,
    165, 150, 120, 140, 145, 145, 165, 135, 140, 155,
    190,
    140, 145, 135, 150, 145, 155, 125, 170, 135, 130,
    150, 130, 125, 135, 140, 165, 155, 150, 140, 135,
    145, 130, 145, 130, 145, 155, 180, 140, 145, 165,
    135, 140, 145, 180, 175, 140, 160, 170, 155, 190,
    160, 165, 165, 160, 130, 165, 165, 140, 155, 155,
    165, 160, 160, 160, 135, 160, 135, 140, 180, 175,
    200, 180, 190, 175, 180, 205, 180, 200, 195, 215,
    180, 150, 200, 175, 165, 175, 225,
    240, 190, 230, 220, 260, 235, 260, 245, 280, 280,
    310, 270, 330, 250, 320, 340, 390, 350, 360, 330,
    310, 370, 390, 360, 410, 480, 500, 650, 540, 520,
    590, 580, 620, 540, 570, 580, 630, 530, 560, 590,
    550, 620, 540, 600, 630, 580, 680, 640, 690, 650,
    700, 660, 640, 590, 610, 540, 510, 470, 440, 380,
    340, 280, 220, 200, 180, 160, 140, 130, 120, 110,
    100, 95, 90, 80, 80, 75, 75, 70, 70,
]
# magenta -- second pass (dense start)
mag_x2 = [
    0.003058, 0.003062, 0.003068, 0.003072, 0.003078, 0.003082, 0.003088, 0.003092, 0.003098, 0.003102,
    0.003108, 0.003112, 0.003118, 0.003122, 0.003128, 0.003138, 0.003148, 0.003158, 0.003170, 0.003180,
    0.003190, 0.003210, 0.003230, 0.003258, 0.003290, 0.003330, 0.003360,
]
mag_y2 = [
    780, 1050, 920, 1200, 830, 1120, 960, 1280, 880, 1010,
    1150, 760, 1060, 900, 990, 840, 950, 760, 860, 720,
    810, 700, 760, 640, 690, 600, 560,
]
mag_err2 = [
    210, 260, 230, 280, 220, 270, 240, 280, 220, 250,
    270, 200, 260, 230, 250, 220, 240, 200, 220, 200,
    210, 190, 200, 180, 190, 170, 160,
]

# 03-1949 P 4122 V 20  (black, markers only)
blk_x = [
    0.1092, 0.1120, 0.1160, 0.1220, 0.1250, 0.1280, 0.1310, 0.1350, 0.1355, 0.1380,
    0.1470, 0.1500, 0.1505, 0.1570, 0.1620, 0.1650, 0.1710, 0.1730, 0.1830, 0.1870,
    0.1900, 0.1980, 0.2030, 0.2070, 0.2170, 0.2230, 0.2260, 0.2350, 0.2420, 0.2450,
    0.2500, 0.2600, 0.2700, 0.2760, 0.2830, 0.2860, 0.2930, 0.3050, 0.3130, 0.3250,
    0.3360, 0.3430, 0.3500, 0.3600, 0.3830, 0.3960, 0.4050, 0.4140, 0.4200, 0.4300,
    0.4400, 0.4600, 0.4800, 0.4900, 0.5060, 0.5200, 0.5300, 0.5500, 0.5700, 0.5900,
    0.6000,
]
blk_y = [
    1428, 1490, 1545, 1775, 1428, 1840, 1518, 1740, 1455, 1960,
    1840, 1818, 1690, 1800, 2520, 2140, 2210, 2240, 2700, 2800,
    2560, 3080, 3890, 3620, 3760, 3600, 4380, 3560, 4200, 3220,
    2860, 3300, 3040, 2330, 2860, 2120, 3350, 3500, 3980, 3680,
    3080, 4380, 4090, 4170, 3680, 4600, 4790, 4170, 4060, 3560,
    4020, 3380, 2900, 2400, 1910, 1325, 1177, 861, 1007, 861,
    630,
]
blk_err = [
    250, 260, 270, 300, 250, 310, 260, 300, 250, 330,
    310, 310, 290, 300, 420, 360, 370, 380, 450, 470,
    430, 510, 640, 600, 620, 600, 720, 590, 690, 540,
    480, 550, 510, 400, 480, 360, 560, 580, 660, 610,
    520, 720, 680, 690, 610, 760, 790, 690, 670, 590,
    660, 560, 490, 410, 330, 240, 220, 170, 200, 170,
    140,
]

# 03-1819 P 4358 V 20  (brown) -- first pass
brn_x = [
    0.00353, 0.00355, 0.00357, 0.00359, 0.00361, 0.00363, 0.00365, 0.00367, 0.00369, 0.00372,
    0.00375, 0.00378, 0.00381, 0.00384, 0.00388,
    0.00393, 0.00410, 0.00420, 0.00427, 0.00440, 0.00448, 0.00470, 0.00488, 0.00500, 0.00521,
    0.00540, 0.00564, 0.00590, 0.00616, 0.00642, 0.00682, 0.00720, 0.00757, 0.00804, 0.00855,
    0.00903, 0.00958, 0.01030, 0.01050, 0.01160, 0.01230, 0.01320, 0.01390, 0.01500, 0.01590,
    0.01710, 0.01810,
    0.0192, 0.0208, 0.0218, 0.0235, 0.0249, 0.0268, 0.0282, 0.0303, 0.0320, 0.0343,
    0.0359, 0.0385, 0.0408, 0.0431, 0.0455, 0.0486, 0.0519, 0.0545, 0.0582, 0.0614,
    0.0645, 0.0683, 0.0724, 0.0768, 0.0801, 0.0845, 0.0897, 0.0944, 0.0986, 0.1062,
    0.1095, 0.1160, 0.1280, 0.1348, 0.1380, 0.1470, 0.1560,
    0.1660, 0.1700, 0.1750, 0.1850, 0.1910, 0.1980, 0.2060, 0.2120, 0.2220, 0.2320,
    0.2420, 0.2480, 0.2580, 0.2670, 0.2750, 0.2860, 0.2960, 0.3050, 0.3160, 0.3250,
    0.3370, 0.3500, 0.3680, 0.3800, 0.3900, 0.4100, 0.4300, 0.4450, 0.4600, 0.4700,
    0.4850, 0.5000, 0.5100, 0.5200, 0.5300, 0.5400, 0.5550, 0.5730, 0.5900, 0.6120,
    0.6400, 0.6600, 0.6800, 0.7100, 0.7300,
]
brn_y = [
    261, 560, 470, 620, 420, 540, 480, 600, 440, 520,
    460, 580, 430, 500, 455,
    475, 405, 521, 364, 422, 450, 510, 405, 456, 453,
    385, 417, 354, 399, 444, 469, 417, 405, 437, 469,
    414, 434, 497, 425, 425, 482, 425, 431, 450, 466,
    428, 475,
    282, 417, 431, 417, 392, 412, 441, 455, 469, 375,
    415, 445, 407, 438, 380, 464, 441, 395, 498, 532,
    440, 437, 405, 532, 390, 521, 525, 467, 522, 573,
    502, 567, 712, 672, 776, 739, 915,
    922, 876, 1107, 1024, 1281, 1513, 1473, 1608, 1810, 1608,
    2010, 1860, 2800, 2175, 1594, 1635, 1576, 1977, 1925, 1860,
    1925, 2230, 2410, 2720, 2800, 2900, 2970, 2850, 2770, 2650,
    2550, 2440, 2300, 2190, 1720, 1325, 922, 652, 453, 394,
    362, 315, 242, 208, 185,
]
brn_err = [
    1025, 210, 190, 220, 180, 200, 190, 215, 180, 200,
    185, 210, 175, 195, 180,
    130, 110, 140, 100, 115, 120, 135, 110, 125, 120,
    105, 115, 95, 110, 120, 125, 115, 110, 120, 125,
    115, 120, 135, 115, 115, 130, 115, 120, 120, 125,
    115, 130,
    95, 115, 120, 115, 110, 115, 120, 125, 130, 105,
    115, 125, 115, 120, 105, 130, 120, 110, 135, 145,
    120, 120, 110, 145, 110, 140, 145, 130, 140, 155,
    140, 155, 190, 180, 205, 195, 240,
    200, 190, 240, 220, 280, 330, 320, 350, 390, 350,
    430, 400, 600, 470, 350, 360, 350, 430, 420, 400,
    420, 480, 520, 580, 600, 620, 640, 610, 600, 570,
    550, 530, 500, 470, 380, 290, 210, 150, 110, 100,
    90, 85, 70, 65, 60,
]
# brown -- second pass (dense start)
brn_x2 = [
    0.00344, 0.00346, 0.00348, 0.00350, 0.00352, 0.00354, 0.00356, 0.00358, 0.00360, 0.00362,
    0.00364, 0.00366, 0.00368, 0.00370, 0.00374, 0.00377, 0.00380, 0.00383, 0.00386, 0.00390,
    0.00396, 0.00400,
]
brn_y2 = [
    520, 610, 450, 560, 620, 490, 590, 430, 600, 510,
    570, 470, 530, 620, 490, 430, 540, 470, 510, 440,
    490, 460,
]
brn_err2 = [
    190, 210, 170, 200, 210, 180, 210, 160, 210, 190,
    200, 175, 190, 200, 180, 160, 195, 175, 185, 160,
    150, 140,
]

# axis ticks
x_major = [0.01, 0.1, 1]
x_major_text = ["10<sup>-2</sup>", "10<sup>-1</sup>", "1"]
x_minor = [0.003, 0.004, 0.005, 0.006, 0.007, 0.008, 0.009,
           0.02, 0.03, 0.04, 0.05, 0.06, 0.07, 0.08, 0.09,
           0.2, 0.3, 0.4, 0.5, 0.6, 0.7, 0.8, 0.9]
y_major = [1000, 10000]
y_major_text = ["10<sup>3</sup>", "10<sup>4</sup>"]
y_minor = [300, 400, 500, 600, 700, 800, 900,
           2000, 3000, 4000, 5000, 6000, 7000, 8000, 9000, 20000]

for a, b, c in [(red_x, red_y, red_err), (red_x2, red_y2, red_err2),
                (blue_x, blue_y, blue_err), (blue_x2, blue_y2, blue_err2),
                (mag_x, mag_y, mag_err), (mag_x2, mag_y2, mag_err2),
                (blk_x, blk_y, blk_err), (brn_x, brn_y, brn_err), (brn_x2, brn_y2, brn_err2)]:
    assert len(a) == len(b) == len(c), (len(a), len(b), len(c))


def merged(xa, ya, ea, xb, yb, eb):
    """Put both passes of readings together in order of pressure."""
    pts = sorted(zip(xa + xb, ya + yb, ea + eb))
    return [p[0] for p in pts], [p[1] for p in pts], [p[2] for p in pts]


RX, RY, RE = merged(red_x, red_y, red_err, red_x2, red_y2, red_err2)
BX, BY, BE = merged(blue_x, blue_y, blue_err, blue_x2, blue_y2, blue_err2)
MX, MY, ME = merged(mag_x, mag_y, mag_err, mag_x2, mag_y2, mag_err2)
NX, NY, NE = merged(brn_x, brn_y, brn_err, brn_x2, brn_y2, brn_err2)

# ---------------- figure ----------------
FONT = "Liberation Sans, Arial, Helvetica, sans-serif"
BROWN = "#876657"
PAD = "\u00a0\u00a0\u00a0\u00a0"

fig = go.Figure()


def add_series(name, x, y, err, color, mode, symbol, msize, lw, group, mline=0):
    fig.add_trace(go.Scatter(
        x=x, y=y, name=PAD + name, mode=mode, legendgroup=group,
        line=dict(color=color, width=lw),
        marker=dict(color=color, symbol=symbol, size=msize, line=dict(color=color, width=mline)),
        error_y=dict(type="data", array=err, visible=True, color=color, thickness=3, width=7),
        connectgaps=True,
    ))


add_series("03-1652 P 2458 V 20", RX, RY, RE, "#ff0000", "lines+markers", "circle", 4, 2, "g1")
add_series("03-2022 P 3058 V 20", BX, BY, BE, "#0000ff", "lines+markers", "square", 5, 2, "g2")
# zero-rate blue reading: bar from zero up to its error
fig.add_trace(go.Scatter(
    x=blue_zero_x, y=[v + e for v, e in zip(blue_zero_y, blue_zero_err)],
    mode="markers", marker=dict(color="#0000ff", size=1, opacity=0), showlegend=False,
    legendgroup="g2",
    error_y=dict(type="data", symmetric=False, array=[0 for _ in blue_zero_err],
                 arrayminus=[v + e for v, e in zip(blue_zero_y, blue_zero_err)],
                 visible=True, color="#0000ff", thickness=2.5, width=7),
))
add_series("03-1914 P 4112 V 20", MX, MY, ME, "#ff00ff", "lines+markers", "circle", 9, 2.5, "g3")
add_series("03-1949 P 4122 V 20", blk_x, blk_y, blk_err, "#000000", "markers", "square-open", 7, 2, "g4", mline=3.5)
add_series("03-1819 P 4358 V 20", NX, NY, NE, BROWN, "lines+markers", "circle", 7, 3, "g5")

axis_common = dict(
    showline=True, linecolor="black", linewidth=3, mirror=True,
    showgrid=False, zeroline=False, ticks="inside", tickcolor="black", tickwidth=3,
)

fig.update_xaxes(
    type="log", range=[-2.6979, 0], **axis_common,
    ticklen=44, tickvals=x_major, ticktext=x_major_text,
    tickfont=dict(family=FONT, size=66, color="black", weight="bold"),
    ticklabelstandoff=6,
    minor=dict(tickvals=x_minor, ticks="inside", ticklen=22, tickwidth=3, tickcolor="black", showgrid=False),
    title=dict(text="Pressure (Torr) in chamber B",
               font=dict(family=FONT, size=71, color="black", weight="bold"), standoff=3),
)
fig.update_yaxes(
    type="log", range=[2.2957, 4.4794], **axis_common,
    ticklen=66, tickvals=y_major, ticktext=y_major_text,
    tickfont=dict(family=FONT, size=63, color="black", weight="bold"),
    ticklabelstandoff=22,
    minor=dict(tickvals=y_minor, ticks="inside", ticklen=33, tickwidth=3, tickcolor="black", showgrid=False),
    title=dict(text="Counts/s", font=dict(family=FONT, size=72, color="black", weight="bold"), standoff=26),
)

fig.update_layout(
    width=2464, height=1659,
    margin=dict(l=248, r=28, t=10, b=169),
    paper_bgcolor="white", plot_bgcolor="white",
    showlegend=True,
    legend=dict(
        x=0.0388, y=0.9993, xanchor="left", yanchor="top",
        bgcolor="rgba(0,0,0,0)", borderwidth=0,
        font=dict(family=FONT, size=35, color="black", weight="bold"),
        itemwidth=141, tracegroupgap=6.5, traceorder="grouped",
    ),
    # legend frame, in plot-area fractions
    shapes=[dict(type="rect", xref="paper", yref="paper",
                 x0=0.0256, x1=0.4378, y0=0.8123, y1=0.9993,
                 line=dict(color="black", width=3), layer="above")],
)

fig.write_html("out.html")
